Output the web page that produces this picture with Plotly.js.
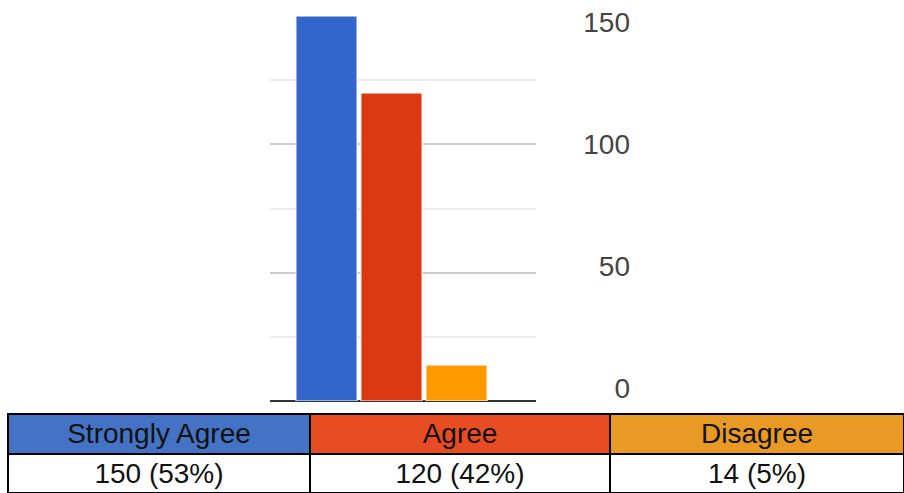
<!DOCTYPE html>
<html>
<head>
<meta charset="utf-8">
<script src="https://cdn.plot.ly/plotly-3.0.1.min.js"></script>
<style>html,body{margin:0;padding:0;background:#fff;}#chart{width:904px;height:493px;}</style>
</head>
<body>
<div id="chart"></div>
<script>
const categories = ["Strongly Agree", "Agree", "Disagree"];
const counts = [150, 120, 14];
const barColors = ["#3366cc", "#dc3912", "#ff9900"];
const headerColors = ["#4472c4", "#e84c22", "#e89a24"];
const tickValues = [0, 50, 100, 150];

const total = counts.reduce((a, b) => a + b, 0);
const cellLabels = counts.map(v => `${v} (${Math.round(v / total * 100)}%)`);

const W = 904, H = 493;

const bars = {
  type: "bar",
  x: categories,
  y: counts,
  width: 0.94,
  marker: { color: barColors, line: { color: "#ffffff", width: 1 } },
  xaxis: "x", yaxis: "y",
  hoverinfo: "skip",
  showlegend: false
};

const labelCarrier = {
  type: "scatter",
  mode: "lines",
  x: categories,
  y: counts,
  line: { width: 0, color: "rgba(0,0,0,0)" },
  xaxis: "x", yaxis: "y2",
  hoverinfo: "skip",
  showlegend: false
};

const tableFont = { family: "Liberation Sans, Arial, sans-serif", size: 28, color: "#111111" };

const table = {
  type: "table",
  domain: { x: [8 / W, 1], y: [0, 79 / H] },
  columnwidth: [302, 300, 294],
  header: {
    values: categories.map(c => [c]),
    fill: { color: headerColors },
    line: { color: "#000000", width: 2 },
    align: "center",
    height: 40,
    font: tableFont
  },
  cells: {
    values: cellLabels.map(s => [s]),
    fill: { color: "#ffffff" },
    line: { color: "#000000", width: 2 },
    align: "center",
    height: 39,
    font: tableFont
  }
};

const layout = {
  width: W, height: H,
  margin: { l: 0, r: 0, t: 0, b: 0 },
  paper_bgcolor: "#ffffff",
  plot_bgcolor: "#ffffff",
  showlegend: false,
  xaxis: {
    domain: [270 / W, 536 / W],
    range: [-0.869, 3.223],
    showticklabels: false,
    showgrid: false,
    zeroline: false,
    showline: false,
    ticks: "",
    fixedrange: true
  },
  yaxis: {
    domain: [(H - 401) / H, (H - 16) / H],
    range: [0, 150],
    tickvals: tickValues,
    showticklabels: false,
    gridcolor: "#cccccc",
    gridwidth: 2,
    minor: { dtick: 25, tick0: 0, showgrid: true, gridcolor: "#ebebeb", gridwidth: 2 },
    zeroline: true,
    zerolinecolor: "#333333",
    zerolinewidth: 2.5,
    showline: false,
    ticks: "",
    fixedrange: true
  },
  yaxis2: {
    overlaying: "y",
    anchor: "free",
    side: "left",
    position: 630 / W,
    range: [-5.33, 152.46],
    tickvals: tickValues,
    showgrid: false,
    zeroline: false,
    showline: false,
    ticks: "",
    tickfont: { family: "Liberation Sans, Arial, sans-serif", size: 28, color: "#444444" },
    fixedrange: true
  }
};

Plotly.newPlot("chart", [bars, labelCarrier, table], layout, { displayModeBar: false, staticPlot: true });
</script>
</body>
</html>
